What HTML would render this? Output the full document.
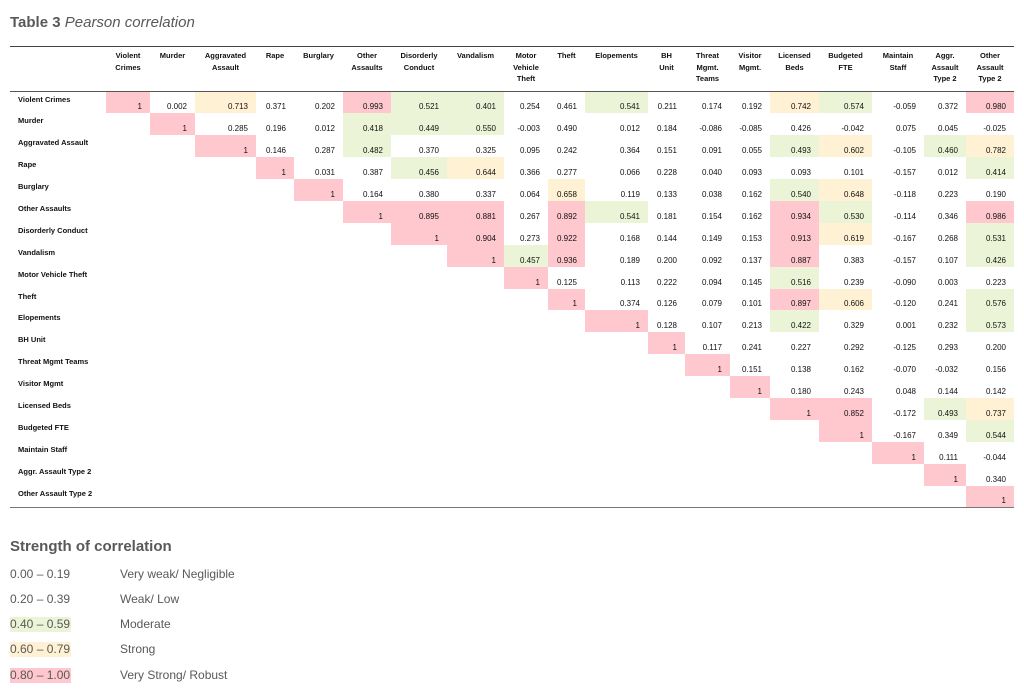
<!DOCTYPE html>
<html><head><meta charset="utf-8">
<style>
body{margin:0;background:#fff;width:1024px;height:697px;overflow:hidden;font-family:"Liberation Sans",sans-serif;}
.title{position:absolute;left:10px;top:14px;font-size:15px;color:#595959;}
.title b{font-weight:bold}
table{position:absolute;left:10px;top:46px;border-collapse:collapse;table-layout:fixed;width:1004px;font-family:"Liberation Sans",sans-serif;}
th{font-size:7.5px;font-weight:bold;color:#111;vertical-align:top;text-align:center;padding:3px 1px 0;height:41px;border-top:1px solid #444;border-bottom:1px solid #555;line-height:11.5px;}
td{height:21.9px;padding:0 8px 2px 0;font-size:8px;color:#111;text-align:right;vertical-align:bottom;line-height:9px;box-sizing:border-box;}
td.l{text-align:left;vertical-align:top;padding:3px 0 0 8px;font-weight:bold;font-size:7.5px;}
tr:last-child td{border-bottom:1px solid #777;}
.p{background:#ffc7ce;}
.y{background:#fff1d4;}
.g{background:#ebf4d6;}
.legend{position:absolute;left:10px;top:538px;color:#595959;}
.legend h2{margin:0;font-size:15px;font-weight:bold;}
.lr{position:absolute;left:0;font-size:12px;white-space:nowrap;}
.lr span.r{display:inline-block;width:61px;padding:0;line-height:15px;}
.lr span.t{position:absolute;left:110px;top:0;line-height:15px;}
</style></head><body>
<div class="title"><b>Table 3</b> <i>Pearson correlation</i></div>
<table>
<colgroup><col style="width:96px"><col style="width:44px"><col style="width:45px"><col style="width:61px"><col style="width:38px"><col style="width:49px"><col style="width:48px"><col style="width:56px"><col style="width:57px"><col style="width:44px"><col style="width:37px"><col style="width:63px"><col style="width:37px"><col style="width:45px"><col style="width:40px"><col style="width:49px"><col style="width:53px"><col style="width:52px"><col style="width:42px"><col style="width:48px"></colgroup>
<tr><th></th><th>Violent<br>Crimes</th><th>Murder</th><th>Aggravated<br>Assault</th><th>Rape</th><th>Burglary</th><th>Other<br>Assaults</th><th>Disorderly<br>Conduct</th><th>Vandalism</th><th>Motor<br>Vehicle<br>Theft</th><th>Theft</th><th>Elopements</th><th>BH<br>Unit</th><th>Threat<br>Mgmt.<br>Teams</th><th>Visitor<br>Mgmt.</th><th>Licensed<br>Beds</th><th>Budgeted<br>FTE</th><th>Maintain<br>Staff</th><th>Aggr.<br>Assault<br>Type 2</th><th>Other<br>Assault<br>Type 2</th></tr>
<tr><td class="l">Violent Crimes</td><td class="p">1</td><td>0.002</td><td class="y">0.713</td><td>0.371</td><td>0.202</td><td class="p">0.993</td><td class="g">0.521</td><td class="g">0.401</td><td>0.254</td><td>0.461</td><td class="g">0.541</td><td>0.211</td><td>0.174</td><td>0.192</td><td class="y">0.742</td><td class="g">0.574</td><td>-0.059</td><td>0.372</td><td class="p">0.980</td></tr>
<tr><td class="l">Murder</td><td></td><td class="p">1</td><td>0.285</td><td>0.196</td><td>0.012</td><td class="g">0.418</td><td class="g">0.449</td><td class="g">0.550</td><td>-0.003</td><td>0.490</td><td>0.012</td><td>0.184</td><td>-0.086</td><td>-0.085</td><td>0.426</td><td>-0.042</td><td>0.075</td><td>0.045</td><td>-0.025</td></tr>
<tr><td class="l">Aggravated Assault</td><td></td><td></td><td class="p">1</td><td>0.146</td><td>0.287</td><td class="g">0.482</td><td>0.370</td><td>0.325</td><td>0.095</td><td>0.242</td><td>0.364</td><td>0.151</td><td>0.091</td><td>0.055</td><td class="g">0.493</td><td class="y">0.602</td><td>-0.105</td><td class="g">0.460</td><td class="y">0.782</td></tr>
<tr><td class="l">Rape</td><td></td><td></td><td></td><td class="p">1</td><td>0.031</td><td>0.387</td><td class="g">0.456</td><td class="y">0.644</td><td>0.366</td><td>0.277</td><td>0.066</td><td>0.228</td><td>0.040</td><td>0.093</td><td>0.093</td><td>0.101</td><td>-0.157</td><td>0.012</td><td class="g">0.414</td></tr>
<tr><td class="l">Burglary</td><td></td><td></td><td></td><td></td><td class="p">1</td><td>0.164</td><td>0.380</td><td>0.337</td><td>0.064</td><td class="y">0.658</td><td>0.119</td><td>0.133</td><td>0.038</td><td>0.162</td><td class="g">0.540</td><td class="y">0.648</td><td>-0.118</td><td>0.223</td><td>0.190</td></tr>
<tr><td class="l">Other Assaults</td><td></td><td></td><td></td><td></td><td></td><td class="p">1</td><td class="p">0.895</td><td class="p">0.881</td><td>0.267</td><td class="p">0.892</td><td class="g">0.541</td><td>0.181</td><td>0.154</td><td>0.162</td><td class="p">0.934</td><td class="g">0.530</td><td>-0.114</td><td>0.346</td><td class="p">0.986</td></tr>
<tr><td class="l">Disorderly Conduct</td><td></td><td></td><td></td><td></td><td></td><td></td><td class="p">1</td><td class="p">0.904</td><td>0.273</td><td class="p">0.922</td><td>0.168</td><td>0.144</td><td>0.149</td><td>0.153</td><td class="p">0.913</td><td class="y">0.619</td><td>-0.167</td><td>0.268</td><td class="g">0.531</td></tr>
<tr><td class="l">Vandalism</td><td></td><td></td><td></td><td></td><td></td><td></td><td></td><td class="p">1</td><td class="g">0.457</td><td class="p">0.936</td><td>0.189</td><td>0.200</td><td>0.092</td><td>0.137</td><td class="p">0.887</td><td>0.383</td><td>-0.157</td><td>0.107</td><td class="g">0.426</td></tr>
<tr><td class="l">Motor Vehicle Theft</td><td></td><td></td><td></td><td></td><td></td><td></td><td></td><td></td><td class="p">1</td><td>0.125</td><td>0.113</td><td>0.222</td><td>0.094</td><td>0.145</td><td class="g">0.516</td><td>0.239</td><td>-0.090</td><td>0.003</td><td>0.223</td></tr>
<tr><td class="l">Theft</td><td></td><td></td><td></td><td></td><td></td><td></td><td></td><td></td><td></td><td class="p">1</td><td>0.374</td><td>0.126</td><td>0.079</td><td>0.101</td><td class="p">0.897</td><td class="y">0.606</td><td>-0.120</td><td>0.241</td><td class="g">0.576</td></tr>
<tr><td class="l">Elopements</td><td></td><td></td><td></td><td></td><td></td><td></td><td></td><td></td><td></td><td></td><td class="p">1</td><td>0.128</td><td>0.107</td><td>0.213</td><td class="g">0.422</td><td>0.329</td><td>0.001</td><td>0.232</td><td class="g">0.573</td></tr>
<tr><td class="l">BH Unit</td><td></td><td></td><td></td><td></td><td></td><td></td><td></td><td></td><td></td><td></td><td></td><td class="p">1</td><td>0.117</td><td>0.241</td><td>0.227</td><td>0.292</td><td>-0.125</td><td>0.293</td><td>0.200</td></tr>
<tr><td class="l">Threat Mgmt Teams</td><td></td><td></td><td></td><td></td><td></td><td></td><td></td><td></td><td></td><td></td><td></td><td></td><td class="p">1</td><td>0.151</td><td>0.138</td><td>0.162</td><td>-0.070</td><td>-0.032</td><td>0.156</td></tr>
<tr><td class="l">Visitor Mgmt</td><td></td><td></td><td></td><td></td><td></td><td></td><td></td><td></td><td></td><td></td><td></td><td></td><td></td><td class="p">1</td><td>0.180</td><td>0.243</td><td>0.048</td><td>0.144</td><td>0.142</td></tr>
<tr><td class="l">Licensed Beds</td><td></td><td></td><td></td><td></td><td></td><td></td><td></td><td></td><td></td><td></td><td></td><td></td><td></td><td></td><td class="p">1</td><td class="p">0.852</td><td>-0.172</td><td class="g">0.493</td><td class="y">0.737</td></tr>
<tr><td class="l">Budgeted FTE</td><td></td><td></td><td></td><td></td><td></td><td></td><td></td><td></td><td></td><td></td><td></td><td></td><td></td><td></td><td></td><td class="p">1</td><td>-0.167</td><td>0.349</td><td class="g">0.544</td></tr>
<tr><td class="l">Maintain Staff</td><td></td><td></td><td></td><td></td><td></td><td></td><td></td><td></td><td></td><td></td><td></td><td></td><td></td><td></td><td></td><td></td><td class="p">1</td><td>0.111</td><td>-0.044</td></tr>
<tr><td class="l">Aggr. Assault Type 2</td><td></td><td></td><td></td><td></td><td></td><td></td><td></td><td></td><td></td><td></td><td></td><td></td><td></td><td></td><td></td><td></td><td></td><td class="p">1</td><td>0.340</td></tr>
<tr><td class="l">Other Assault Type 2</td><td></td><td></td><td></td><td></td><td></td><td></td><td></td><td></td><td></td><td></td><td></td><td></td><td></td><td></td><td></td><td></td><td></td><td></td><td class="p">1</td></tr>
</table>
<div class="legend">
<h2>Strength of correlation</h2>
<div class="lr" style="top:29px"><span class="r">0.00 – 0.19</span><span class="t">Very weak/ Negligible</span></div>
<div class="lr" style="top:54px"><span class="r">0.20 – 0.39</span><span class="t">Weak/ Low</span></div>
<div class="lr" style="top:79px"><span class="r g">0.40 – 0.59</span><span class="t">Moderate</span></div>
<div class="lr" style="top:104px"><span class="r y">0.60 – 0.79</span><span class="t">Strong</span></div>
<div class="lr" style="top:130px"><span class="r p">0.80 – 1.00</span><span class="t">Very Strong/ Robust</span></div>
</div>
</body></html>
